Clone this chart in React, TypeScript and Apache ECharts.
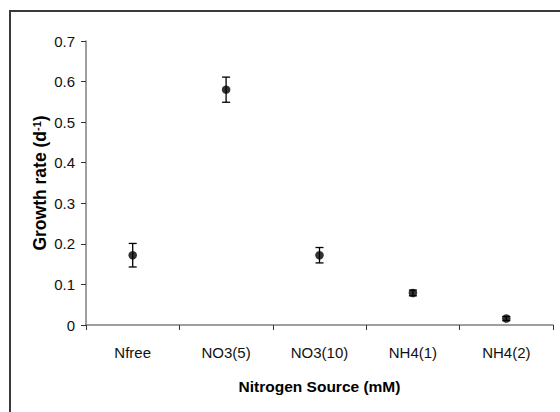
import React, { useEffect, useRef } from "react";
import * as echarts from "echarts";

const categories = ["Nfree", "NO3(5)", "NO3(10)", "NH4(1)", "NH4(2)"];
const growthRate = [0.172, 0.58, 0.172, 0.079, 0.016];
const errorSize = [0.029, 0.031, 0.019, 0.007, 0.005];

export default function App() {
  const ref = useRef<HTMLDivElement>(null);
  useEffect(() => {
    const chart = echarts.init(ref.current!, null, { renderer: "svg" });
    const errData = categories.map((c, i) => [i, growthRate[i] - errorSize[i], growthRate[i] + errorSize[i]]);
    chart.setOption({
      animation: false,
      backgroundColor: "#ffffff",
      textStyle: { fontFamily: "Arial, 'Liberation Sans', sans-serif" },
      graphic: [
        {
          type: "rect",
          shape: { x: 10, y: 11, width: 600, height: 450 },
          style: { fill: "none", stroke: "#3a3a3a", lineWidth: 2 },
          silent: true,
        },
      ],
      grid: { left: 86, top: 41, right: 7, bottom: 87, containLabel: false },
      xAxis: {
        type: "category",
        data: categories,
        boundaryGap: true,
        axisLine: { lineStyle: { color: "#7f7f7f", width: 1.5 } },
        axisTick: { show: true, length: 5, inside: false, lineStyle: { color: "#333", width: 1 } },
        axisLabel: { color: "#111", fontSize: 15, margin: 20 },
        name: "Nitrogen Source (mM)",
        nameLocation: "middle",
        nameGap: 53,
        nameMoveOverlap: false,
        nameTextStyle: { color: "#000", fontSize: 15.5, fontWeight: "bold" },
      },
      yAxis: {
        type: "value",
        min: 0,
        max: 0.7,
        interval: 0.1,
        splitLine: { show: false },
        axisLine: { show: true, lineStyle: { color: "#7f7f7f", width: 1.5 } },
        axisTick: { show: true, length: 5, lineStyle: { color: "#333", width: 1 } },
        axisLabel: {
          color: "#111",
          fontSize: 15,
          margin: 11,
          formatter: (v: number) => (v === 0 ? "0" : v.toFixed(1)),
        },
        name: "{b|Growth rate (d}{s|-1}{b|)}",
        nameLocation: "middle",
        nameRotate: 90,
        nameGap: 37,
        nameMoveOverlap: false,
        nameTextStyle: {
          rich: {
            b: { fontSize: 17.5, fontWeight: "bold", color: "#000" },
            s: { fontSize: 11, fontWeight: "bold", color: "#000", verticalAlign: "top", lineHeight: 11, padding: [0, 0, 7, 0] },
          },
        },
      },
      series: [
        {
          type: "custom",
          data: errData,
          renderItem: (params: any, api: any) => {
            const x = api.value(0);
            const lo = api.coord([x, api.value(1)]);
            const hi = api.coord([x, api.value(2)]);
            const w = 4;
            const style = { stroke: "#000", lineWidth: 1.3 };
            return {
              type: "group",
              children: [
                { type: "line", shape: { x1: lo[0], y1: lo[1], x2: hi[0], y2: hi[1] }, style },
                { type: "line", shape: { x1: lo[0] - w, y1: lo[1], x2: lo[0] + w, y2: lo[1] }, style },
                { type: "line", shape: { x1: hi[0] - w, y1: hi[1], x2: hi[0] + w, y2: hi[1] }, style },
              ],
            };
          },
          z: 2,
        },
        {
          type: "scatter",
          data: growthRate,
          symbol: "circle",
          symbolSize: 8.5,
          itemStyle: { color: "#000" },
          z: 3,
        },
      ],
    });
    return () => chart.dispose();
  }, []);
  return <div ref={ref} style={{ position: "fixed", left: 0, top: 0, width: 560, height: 412 }} />;
}
